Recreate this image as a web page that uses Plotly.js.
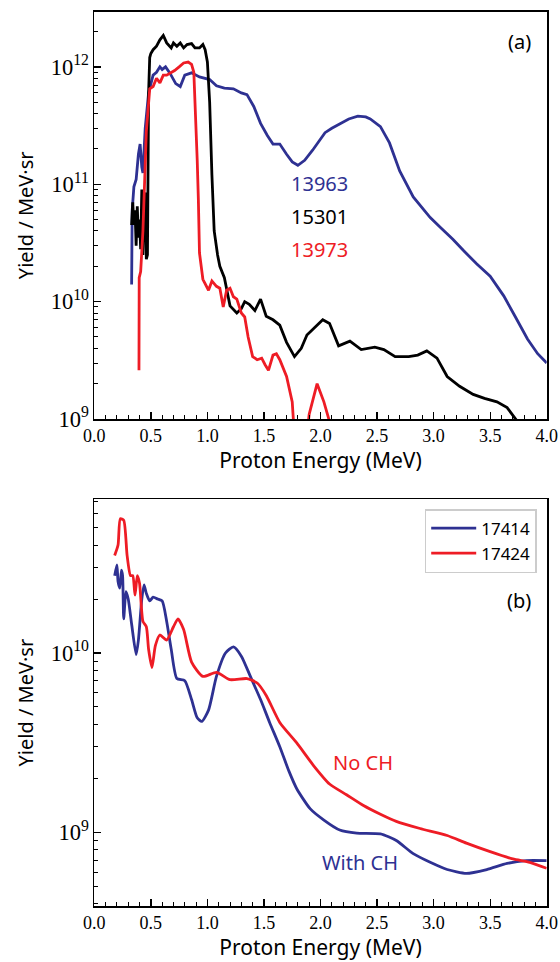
<!DOCTYPE html>
<html><head><meta charset="utf-8">
<script src="https://cdn.plot.ly/plotly-3.0.1.min.js"></script>
<style>html,body{margin:0;padding:0;background:#fff}</style>
</head><body>
<div id="chart" style="width:560px;height:962px"></div>
<script>
// Panel (a)
const a_blue_E = [0.33,0.335,0.35,0.37,0.39,0.405,0.42,0.43,0.45,0.48,0.52,0.55,0.58,0.60,0.63,0.67,0.72,0.76,0.80,0.86,0.93,1.02,1.08,1.15,1.23,1.30,1.35,1.41,1.47,1.53,1.58,1.64,1.70,1.75,1.80,1.86,1.93,2.04,2.10,2.17,2.25,2.33,2.40,2.44,2.53,2.61,2.70,2.82,2.97,3.07,3.17,3.26,3.38,3.50,3.62,3.72,3.83,3.92,4.0];
const a_blue_Y = [1.4e10,6e10,9.5e10,1.1e11,1.8e11,2.2e11,1.4e11,1.25e11,3e11,6e11,8.5e11,9e11,1.0e12,9.5e11,1.0e12,8.8e11,7.2e11,6.8e11,8.5e11,8.9e11,8.2e11,7.8e11,6.9e11,6.6e11,6.5e11,6.0e11,5.8e11,4.6e11,3.3e11,2.6e11,2.2e11,2.2e11,1.8e11,1.55e11,1.45e11,1.6e11,1.95e11,2.75e11,3.0e11,3.25e11,3.6e11,3.8e11,3.75e11,3.6e11,3.1e11,2.25e11,1.3e11,7.8e10,5.2e10,4.2e10,3.4e10,2.75e10,2.1e10,1.65e10,1.12e10,7.5e9,4.8e9,3.6e9,3.0e9];
const a_black_E = [0.33,0.34,0.35,0.36,0.37,0.38,0.39,0.40,0.41,0.42,0.43,0.44,0.45,0.46,0.47,0.48,0.49,0.50,0.52,0.55,0.58,0.61,0.64,0.68,0.70,0.73,0.76,0.79,0.82,0.86,0.89,0.93,0.96,0.98,1.00,1.02,1.04,1.06,1.09,1.11,1.15,1.20,1.26,1.30,1.33,1.37,1.42,1.47,1.52,1.58,1.64,1.70,1.77,1.83,1.88,1.95,2.02,2.08,2.16,2.26,2.36,2.48,2.56,2.66,2.78,2.86,2.94,3.03,3.12,3.23,3.35,3.45,3.56,3.65,3.73,3.80];
const a_black_Y = [4.5e10,7e10,4.5e10,6e10,3e10,6.5e10,3.5e10,5e10,2.8e10,9e10,2.5e10,7e10,8.5e10,2.3e10,2.5e10,6e11,1.2e12,1.3e12,1.4e12,1.5e12,1.7e12,1.85e12,1.6e12,1.45e12,1.6e12,1.5e12,1.6e12,1.45e12,1.55e12,1.58e12,1.45e12,1.45e12,1.55e12,1.4e12,1.1e12,5e11,1.2e11,4e10,2.5e10,2.0e10,1.6e10,9.2e9,8.0e9,8.7e9,1.0e10,9.5e9,8.4e9,1.05e10,7.5e9,7.0e9,6.3e9,4.5e9,3.4e9,4.0e9,5.2e9,6.0e9,7.0e9,6.5e9,4.2e9,4.6e9,3.9e9,4.1e9,3.9e9,3.4e9,3.4e9,3.5e9,3.8e9,3.3e9,2.3e9,1.9e9,1.62e9,1.5e9,1.4e9,1.25e9,1.0e9,8e8];
const a_red_E = [0.395,0.397,0.41,0.43,0.46,0.49,0.52,0.55,0.58,0.61,0.64,0.67,0.71,0.75,0.79,0.83,0.86,0.88,0.89,0.91,0.92,0.93,0.96,1.01,1.04,1.08,1.11,1.14,1.17,1.20,1.23,1.26,1.30,1.33,1.36,1.40,1.44,1.48,1.51,1.54,1.58,1.61,1.64,1.70,1.75,1.78,1.86,1.90,1.97,2.03,2.08,2.12];
const a_red_Y = [2.6e9,1.6e10,1.8e10,4e10,2.8e11,6.5e11,6.8e11,8e11,7.3e11,8.5e11,8.5e11,8.8e11,9.3e11,1.0e12,1.08e12,1.1e12,1.05e12,9e11,5.5e11,1.6e11,7.5e10,2.6e10,1.55e10,1.25e10,1.5e10,1.35e10,1.3e10,9e9,1.25e10,1.3e10,1.1e10,1.05e10,8e9,7.4e9,5e9,3.4e9,3.2e9,3.3e9,2.9e9,2.6e9,3.5e9,3.6e9,3.2e9,2.3e9,1.4e9,5e8,5e8,1.1e9,2.0e9,1.4e9,9.5e8,5e8];
// Panel (b)
const b_blue_E = [0.18,0.20,0.21,0.225,0.24,0.25,0.26,0.28,0.30,0.33,0.37,0.39,0.42,0.44,0.46,0.49,0.52,0.56,0.60,0.64,0.68,0.73,0.80,0.86,0.91,0.95,1.01,1.08,1.16,1.23,1.30,1.38,1.47,1.55,1.64,1.72,1.79,1.91,2.03,2.17,2.32,2.53,2.67,2.82,2.97,3.12,3.29,3.47,3.65,3.82,4.0];
const b_blue_Y = [2.7e10,3.1e10,2.5e10,2.3e10,2.9e10,2.7e10,1.55e10,2.2e10,2.0e10,1.45e10,9.8e9,1.18e10,2.0e10,2.4e10,2.15e10,1.95e10,2.05e10,2.0e10,1.95e10,1.5e10,1.05e10,7.2e9,7.0e9,5.5e9,4.35e9,4.15e9,4.8e9,7.4e9,1.0e10,1.08e10,9.6e9,7.4e9,5.5e9,4.1e9,3.0e9,2.2e9,1.75e9,1.35e9,1.17e9,1.03e9,9.9e8,9.8e8,9.0e8,7.6e8,6.8e8,6.2e8,5.9e8,6.2e8,6.7e8,6.95e8,6.95e8];
const b_red_E = [0.18,0.21,0.23,0.26,0.29,0.32,0.34,0.36,0.38,0.40,0.43,0.46,0.48,0.51,0.54,0.58,0.64,0.70,0.74,0.79,0.86,0.96,1.08,1.20,1.35,1.44,1.52,1.64,1.79,1.94,2.08,2.23,2.38,2.53,2.67,2.88,3.12,3.29,3.50,3.70,3.85,4.0];
const b_red_Y = [3.5e10,4.0e10,5.6e10,5.5e10,3.5e10,2.7e10,2.7e10,2.1e10,2.7e10,2.45e10,1.5e10,1.4e10,1.05e10,8.3e9,1.1e10,1.26e10,1.18e10,1.4e10,1.55e10,1.35e10,8.9e9,7.4e9,7.8e9,7.1e9,7.2e9,6.8e9,5.8e9,4.1e9,3.15e9,2.35e9,1.86e9,1.62e9,1.41e9,1.26e9,1.15e9,1.05e9,9.6e8,8.7e8,7.8e8,7.1e8,6.8e8,6.3e8];
const xTicks = [0.0,0.5,1.0,1.5,2.0,2.5,3.0,3.5,4.0];
const xTickText = ['0.0','0.5','1.0','1.5','2.0','2.5','3.0','3.5','4.0'];

const BLUE = '#2e3192', RED = '#ee1c25', BLACK = '#000000';
const W = 560, H = 962;
const sans = 'Noto Sans, DejaVu Sans, sans-serif';
const serif = 'Liberation Serif, DejaVu Serif, serif';

const traces = [
  {x:a_blue_E, y:a_blue_Y, xaxis:'x', yaxis:'y', mode:'lines', line:{color:BLUE, width:2.8}, showlegend:false},
  {x:a_black_E, y:a_black_Y, xaxis:'x', yaxis:'y', mode:'lines', line:{color:BLACK, width:2.8}, showlegend:false},
  {x:a_red_E, y:a_red_Y, xaxis:'x', yaxis:'y', mode:'lines', line:{color:RED, width:2.8}, showlegend:false},
  {x:b_blue_E, y:b_blue_Y, xaxis:'x2', yaxis:'y2', mode:'lines', name:'17414', line:{color:BLUE, width:2.8, shape:'spline', smoothing:0.6}},
  {x:b_red_E, y:b_red_Y, xaxis:'x2', yaxis:'y2', mode:'lines', name:'17424', line:{color:RED, width:2.8, shape:'spline', smoothing:0.6}}
];

function xAxis(anchor, dom){
  return {domain:dom, anchor:anchor, range:[0,4], tickvals:xTicks, ticktext:xTickText,
    ticks:'inside', ticklen:7, tickwidth:1.3, tickcolor:'#000',
    minor:{ticks:'inside', ticklen:4, tickwidth:1, dtick:0.1, tick0:0, tickcolor:'#000', showgrid:false},
    showline:true, linewidth:1.8, linecolor:'#000', mirror:true, showgrid:false, zeroline:false,
    tickfont:{family:serif, size:18, color:'#000'},
    title:{text:'Proton Energy (MeV)', font:{family:sans, size:21, color:'#000'}, standoff:5}};
}
function yAxis(anchor, dom, rng){
  return {domain:dom, anchor:anchor, type:'log', range:rng, dtick:1, exponentformat:'power',
    ticks:'inside', ticklen:7, tickwidth:1.3, tickcolor:'#000',
    minor:{ticks:'inside', ticklen:4, tickwidth:1, dtick:'D1', tickcolor:'#000', showgrid:false},
    showline:true, linewidth:1.8, linecolor:'#000', mirror:true, showgrid:false, zeroline:false,
    tickfont:{family:serif, size:18, color:'#000'},
    title:{text:'Yield / MeV·sr', font:{family:sans, size:20, color:'#000'}, standoff:12}};
}
const xd = [94.3/W, 546.7/W];
const layout = {
  width:W, height:H, margin:{l:0, r:0, t:0, b:0}, paper_bgcolor:'#fff', plot_bgcolor:'#fff',
  xaxis: xAxis('y', xd),
  yaxis: yAxis('x', [1-419/H, 1-11.7/H], [9, 12.47]),
  xaxis2: xAxis('y2', xd),
  yaxis2: yAxis('x2', [1-906/H, 1-499.3/H], [8.589, 10.857]),
  showlegend:true,
  legend:{x:536.7/W, y:1-509/H, xanchor:'right', yanchor:'top', bgcolor:'#fff', itemwidth:45,
    bordercolor:'#cccccc', borderwidth:1.5, font:{family:sans, size:17, color:'#000'}},
  annotations:[
    {xref:'paper', yref:'paper', x:289/W, y:1-183/H, xanchor:'left', yanchor:'middle', text:'13963', showarrow:false, font:{family:sans, size:20, color:BLUE}},
    {xref:'paper', yref:'paper', x:289/W, y:1-216/H, xanchor:'left', yanchor:'middle', text:'15301', showarrow:false, font:{family:sans, size:20, color:BLACK}},
    {xref:'paper', yref:'paper', x:289/W, y:1-250/H, xanchor:'left', yanchor:'middle', text:'13973', showarrow:false, font:{family:sans, size:20, color:RED}},
    {xref:'paper', yref:'paper', x:533/W, y:1-42/H, xanchor:'right', yanchor:'middle', text:'(a)', showarrow:false, font:{family:sans, size:20, color:'#000'}},
    {xref:'paper', yref:'paper', x:533/W, y:1-600/H, xanchor:'right', yanchor:'middle', text:'(b)', showarrow:false, font:{family:sans, size:20, color:'#000'}},
    {xref:'paper', yref:'paper', x:331/W, y:1-762/H, xanchor:'left', yanchor:'middle', text:'No CH', showarrow:false, font:{family:sans, size:20, color:RED}},
    {xref:'paper', yref:'paper', x:320/W, y:1-862/H, xanchor:'left', yanchor:'middle', text:'With CH', showarrow:false, font:{family:sans, size:20, color:BLUE}}
  ]
};
Plotly.newPlot('chart', traces, layout, {displayModeBar:false, staticPlot:true});
</script>
</body></html>
